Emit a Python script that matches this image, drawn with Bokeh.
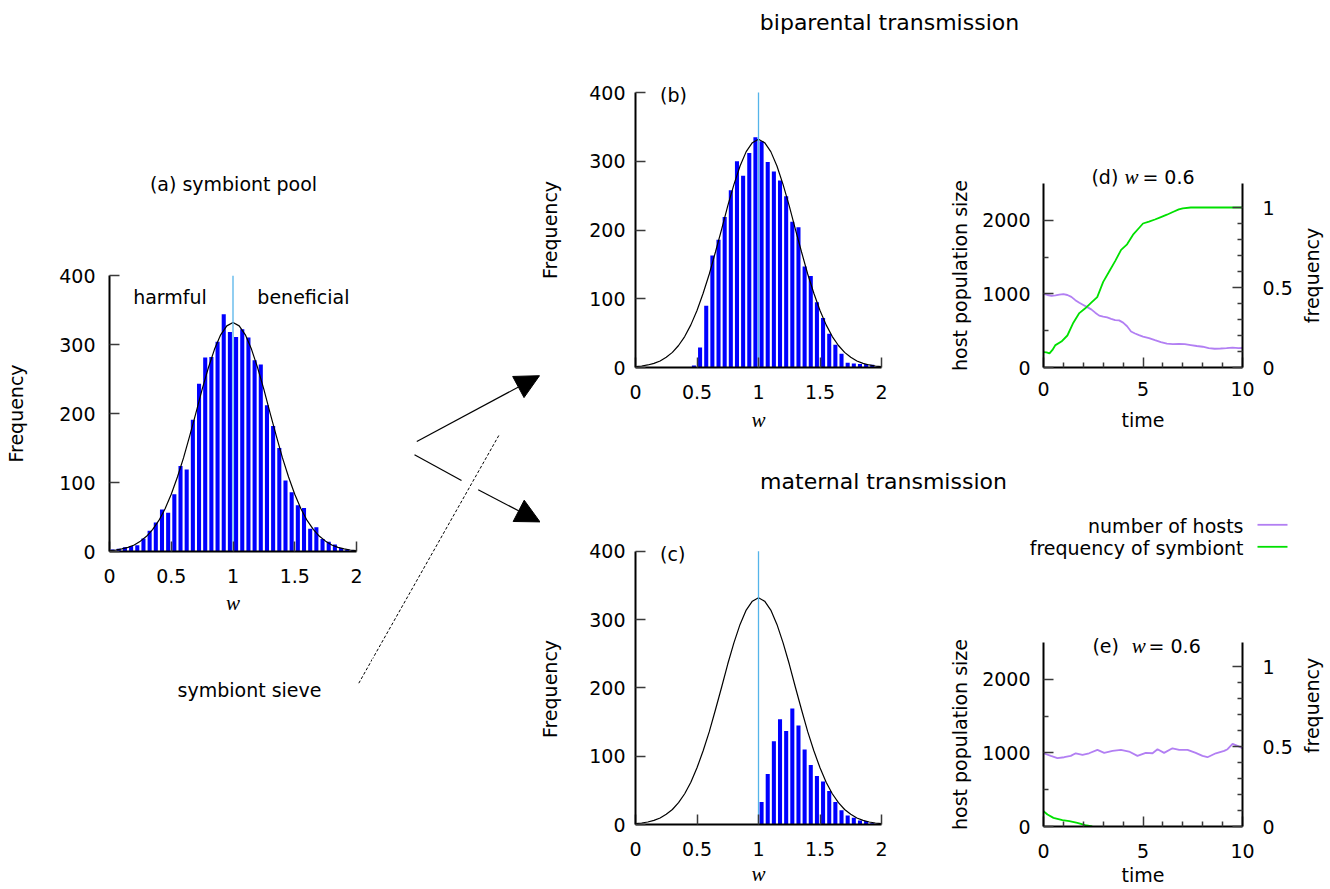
import math
from bokeh.plotting import figure
from bokeh.layouts import row, column
from bokeh.models import (Range1d, LinearAxis, FixedTicker, CustomJSTickFormatter,
                          Arrow, NormalHead)
from bokeh.core.properties import value
from bokeh.embed import file_html
from bokeh.resources import INLINE

# ---------------- data ----------------
w_bins = [0.025, 0.075, 0.125, 0.175, 0.225, 0.275, 0.325, 0.375, 0.425, 0.475,
          0.525, 0.575, 0.625, 0.675, 0.725, 0.775, 0.825, 0.875, 0.925, 0.975,
          1.025, 1.075, 1.125, 1.175, 1.225, 1.275, 1.325, 1.375, 1.425, 1.475,
          1.525, 1.575, 1.625, 1.675, 1.725, 1.775, 1.825, 1.875, 1.925, 1.975]
pool_counts = [3, 4, 6, 8, 9, 19, 30, 42, 61, 56,
               83, 124, 119, 191, 243, 281, 282, 304, 344, 318,
               311, 322, 310, 277, 271, 212, 182, 150, 103, 86,
               67, 63, 33, 35, 18, 14, 10, 5, 3, 2]
biparental_counts = [0, 0, 0, 0, 0, 0, 0, 0, 0, 3,
                     29, 90, 163, 186, 219, 258, 300, 279, 312, 335,
                     329, 299, 285, 272, 249, 212, 204, 147, 133, 95,
                     72, 49, 33, 20, 7, 6, 5, 5, 4, 2]
maternal_counts = [0, 0, 0, 0, 0, 0, 0, 0, 0, 0,
                   0, 0, 0, 0, 0, 0, 0, 0, 0, 0,
                   33, 74, 122, 154, 137, 170, 145, 110, 87, 71,
                   63, 49, 33, 21, 13, 10, 6, 5, 2, 1]

w_grid = [0.0, 0.05, 0.1, 0.15, 0.2, 0.25, 0.3, 0.35, 0.4, 0.45,
          0.5, 0.55, 0.6, 0.65, 0.7, 0.75, 0.8, 0.85, 0.9, 0.95,
          1.0, 1.05, 1.1, 1.15, 1.2, 1.25, 1.3, 1.35, 1.4, 1.45,
          1.5, 1.55, 1.6, 1.65, 1.7, 1.75, 1.8, 1.85, 1.9, 1.95, 2.0]
expected_counts = [1.3, 2.2, 3.7, 6, 9.5, 15, 22, 32, 45, 62,
                   83, 108, 136, 168, 201, 235, 266, 293, 314, 327,
                   332, 327, 314, 293, 266, 235, 201, 168, 136, 108,
                   83, 62, 45, 32, 22, 15, 9.5, 6, 3.7, 2.2, 1.3]
neutral_w = 1.0
hist_top = 400

bi_time = [0.0, 0.2, 0.4, 0.6, 0.8, 1.0, 1.2, 1.4, 1.6, 1.8,
           2.0, 2.2, 2.4, 2.6, 2.8, 3.0, 3.2, 3.4, 3.6, 3.8,
           4.0, 4.2, 4.4, 4.6, 4.8, 5.0, 5.3, 5.6, 5.9, 6.2,
           6.5, 6.8, 7.1, 7.4, 7.7, 8.0, 8.3, 8.6, 8.9, 9.2,
           9.5, 9.8, 10.0]
bi_hosts = [1000, 985, 975, 980, 990, 996, 985, 960, 915, 880,
            850, 820, 790, 745, 705, 690, 680, 662, 645, 640,
            610, 560, 490, 462, 440, 420, 400, 372, 345, 325,
            318, 322, 318, 305, 292, 282, 262, 255, 258, 262,
            270, 262, 265]
bi_freq_time = [0.0, 0.15, 0.3, 0.45, 0.6, 0.9, 1.2, 1.5, 1.8, 2.1,
                2.4, 2.7, 3.0, 3.3, 3.6, 3.9, 4.2, 4.5, 4.8, 5.0,
                5.3, 5.6, 5.9, 6.2, 6.5, 6.8, 7.0, 7.4, 8.0, 9.0, 10.0]
bi_freq = [0.096, 0.095, 0.088, 0.11, 0.14, 0.162, 0.2, 0.28, 0.34, 0.37,
           0.405, 0.44, 0.535, 0.6, 0.665, 0.735, 0.77, 0.83, 0.872, 0.9,
           0.912, 0.925, 0.94, 0.955, 0.972, 0.988, 0.995, 1.0, 1.0, 1.0, 1.0]

ma_time = [0.0, 0.37, 0.70, 1.04, 1.37, 1.62, 1.96, 2.29, 2.71, 3.05,
           3.47, 3.89, 4.30, 4.72, 5.14, 5.48, 5.73, 6.06, 6.48, 6.82,
           7.24, 7.65, 7.99, 8.24, 8.66, 9.08, 9.25, 9.50, 9.75, 10.0]
ma_hosts = [995, 959, 928, 941, 959, 995, 973, 995, 1041, 1000,
            1027, 1041, 1018, 959, 1000, 995, 1050, 1000, 1063, 1041,
            1041, 1000, 959, 941, 995, 1027, 1050, 1122, 1095, 1063]
ma_freq_time = [0.0, 0.2, 0.5, 0.95, 1.3, 1.7, 2.1, 2.45]
ma_freq = [0.096, 0.075, 0.054, 0.04, 0.033, 0.023, 0.008, 0.0]

hist_x_ticks = [0, 0.5, 1, 1.5, 2]
hist_y_ticks = [0, 100, 200, 300, 400]
host_ticks = [0, 1000, 2000]
host_minor = [500, 1500]
host_top = 2500
time_ticks = [0, 5, 10]
time_minor = [1, 2, 3, 4, 6, 7, 8, 9]
freq_ticks = [0, 0.5, 1]
freq_minor = [0.1, 0.2, 0.3, 0.4, 0.6, 0.7, 0.8, 0.9]
freq_top = 1.15

legend_labels = ["number of hosts", "frequency of symbiont"]

# ---------------- styles ----------------
SANS = "DejaVu Sans"
SERIF = "Liberation Serif"
FS = "19px"
BIG = "22px"
BAR_BLUE = "#0000ff"
NEUTRAL = "#55b4ea"
PURPLE = "#b27ff3"
GREEN = "#00e000"
TICK = "#3a3a3a"
UP = math.pi / 2


def no_align(p):
    if "frame_align" in p.properties():
        p.frame_align = False


def txt(p, x, y, s, size=FS, font=SANS, style="normal", align="center",
        baseline="middle", angle=0.0):
    p.text(x=[x], y=[y], text=[s], text_font=value(font), text_font_size=size,
           text_font_style=style, text_align=align, text_baseline=baseline,
           angle=angle, text_color="black")


def style_axis(ax, label, ticks, minor, lab_standoff, axlab_standoff,
               serif_label=False, bounds=None):
    ax.ticker = FixedTicker(ticks=ticks, minor_ticks=minor)
    ax.formatter = CustomJSTickFormatter(code="return String(tick)")
    ax.axis_line_width = 2
    ax.axis_line_color = "black"
    ax.major_tick_in = 10
    ax.major_tick_out = 0
    ax.minor_tick_in = 5
    ax.minor_tick_out = 0
    ax.major_tick_line_color = TICK
    ax.major_tick_line_width = 1.5
    ax.minor_tick_line_color = TICK if minor else None
    ax.minor_tick_line_width = 1.5
    ax.major_label_text_font = SANS
    ax.major_label_text_font_size = FS
    ax.major_label_text_color = "black"
    ax.major_label_standoff = lab_standoff
    ax.axis_label = label
    ax.axis_label_standoff = axlab_standoff
    ax.axis_label_text_font = SERIF if serif_label else SANS
    ax.axis_label_text_font_style = "italic" if serif_label else "normal"
    ax.axis_label_text_font_size = "21px" if serif_label else FS
    ax.axis_label_text_color = "black"
    if bounds is not None:
        ax.bounds = bounds


def canvas(w, h, x0, x1, y0, y1):
    p = figure(width=w, height=h, x_range=Range1d(x0, x1), y_range=Range1d(y0, y1),
               output_backend="svg", toolbar_location=None,
               x_axis_location=None, y_axis_location=None,
               min_border_left=0, min_border_right=0,
               min_border_top=0, min_border_bottom=0)
    p.xgrid.visible = False
    p.ygrid.visible = False
    p.outline_line_color = None
    no_align(p)
    return p


def side_label(w, h, x0, y0, s, x, y):
    # vertical text reading bottom-to-top; y measured downward from page top
    p = canvas(w, h, x0, x0 + w, -(y0 + h), -y0)
    txt(p, x, -y, s, angle=UP)
    return p


def hist_panel(counts, w, h, mbl, mbr, mbt, mbb, px_axis, px_frame,
               ylabel, ylab, xlab):
    y_end = hist_top * px_frame / px_axis
    p = figure(width=w, height=h, x_range=Range1d(0, 2), y_range=Range1d(0, y_end),
               output_backend="svg", toolbar_location=None,
               min_border_left=mbl, min_border_right=mbr,
               min_border_top=mbt, min_border_bottom=mbb)
    no_align(p)
    p.xgrid.visible = False
    p.ygrid.visible = False
    p.outline_line_color = None
    p.vbar(x=w_bins, top=counts, width=0.033, fill_color=BAR_BLUE,
           line_color=None)
    p.line(w_grid, expected_counts, line_color="black", line_width=1.2)
    p.segment(x0=[neutral_w], y0=[0], x1=[neutral_w], y1=[hist_top],
              line_color=NEUTRAL, line_width=1.3)
    style_axis(p.left[0], ylabel, hist_y_ticks, [], ylab[0], ylab[1],
               bounds=(0, hist_top))
    style_axis(p.below[0], "w", hist_x_ticks, [], xlab[0], xlab[1],
               serif_label=True)
    return p


def dyn_panel(w, h, mbl, mbr, mbt, mbb, px_axis, px_frame, time, hosts,
              ftime, freq, xlab):
    p = figure(width=w, height=h, x_range=Range1d(0, 10),
               y_range=Range1d(0, host_top * px_frame / px_axis),
               output_backend="svg", toolbar_location=None,
               min_border_left=mbl, min_border_right=mbr,
               min_border_top=mbt, min_border_bottom=mbb)
    no_align(p)
    p.extra_y_ranges = {"freq": Range1d(0, freq_top * px_frame / px_axis)}
    p.xgrid.visible = False
    p.ygrid.visible = False
    p.outline_line_color = None
    rax = LinearAxis(y_range_name="freq")
    p.add_layout(rax, "right")
    p.line(time, hosts, line_color=PURPLE, line_width=1.8)
    p.line(ftime, freq, line_color=GREEN, line_width=1.8, y_range_name="freq")
    style_axis(p.left[0], None, host_ticks, host_minor, 13, 0,
               bounds=(0, host_top))
    style_axis(rax, None, freq_ticks, freq_minor, 20, 0, bounds=(0, freq_top))
    style_axis(p.below[0], "time", time_ticks, time_minor, xlab[0], xlab[1])
    return p


# ---------------- panel (a) ----------------
pTa = canvas(372, 250, 0, 372, 250, 0)
txt(pTa, 233, 183, "(a) symbiont pool")
pA = hist_panel(pool_counts, 372, 370, 109, 16, 25, 69, 276, 276,
                "Frequency", (14, 29), (17, 5))
txt(pA, 0.49, 369, "harmful")
txt(pA, 1.57, 369, "beneficial")

# ---------------- panels (b), (c) ----------------
pLb = side_label(26, 378, 540, 62, "Frequency", 549, 229.5)
pB = hist_panel(biparental_counts, 374, 378, 69, 59, 13, 73, 275, 292,
                None, (10, 0), (17, 6))
txt(pB, 0.2, 397, "(b)", align="left")
pLc = side_label(26, 388, 540, 500, "Frequency", 549, 688.5)
pC = hist_panel(maternal_counts, 374, 388, 69, 59, 30, 62, 275, 296,
                None, (10, 0), (17, 3))
txt(pC, 0.2, 396, "(c)", align="left")

# ---------------- panels (d), (e) ----------------
pLd = side_label(32, 378, 940, 62, "host population size", 959, 275)
pD = dyn_panel(328, 378, 71, 58, 13, 73, 184, 292, bi_time, bi_hosts,
               bi_freq_time, bi_freq, (14, 10))
txt(pD, 2.41, 2582, "(d)", align="left")
txt(pD, 4.07, 2582, "w", font=SERIF, style="italic", size="21px", align="left")
txt(pD, 4.97, 2582, "= 0.6", align="left")
pRd = side_label(28, 378, 1300, 62, "frequency", 1311, 275)

pLe = side_label(32, 328, 940, 560, "host population size", 959, 734)
pE = dyn_panel(328, 328, 71, 58, 40, 62, 184, 226, ma_time, ma_hosts,
               ma_freq_time, ma_freq, (17, 3))
txt(pE, 2.46, 2459, "(e)", align="left")
txt(pE, 4.43, 2459, "w", font=SERIF, style="italic", size="21px", align="left")
txt(pE, 5.28, 2459, "= 0.6", align="left")
pRe = side_label(28, 328, 1300, 560, "frequency", 1311, 705)

# ---------------- legend band ----------------
pL = canvas(388, 60, 940, 1328, 560, 500)
txt(pL, 1243, 525, legend_labels[0], align="right")
txt(pL, 1243, 547, legend_labels[1], align="right")
pL.segment(x0=[1257], y0=[524.3], x1=[1287], y1=[524.3], line_color=PURPLE, line_width=1.8)
pL.segment(x0=[1257], y0=[546.3], x1=[1287], y1=[546.3], line_color=GREEN, line_width=1.8)

# ---------------- titles ----------------
pT1 = canvas(788, 62, 540, 1328, 62, 0)
txt(pT1, 889, 22, "biparental transmission", size=BIG)
pT2 = canvas(788, 60, 540, 1328, 500, 440)
txt(pT2, 883, 481, "maternal transmission", size=BIG)

# ---------------- arrows and sieve ----------------
pM = canvas(168, 888, 372, 540, 888, 0)
pM.add_layout(Arrow(end=NormalHead(size=24, fill_color="black", line_color="black"),
                    x_start=416.3, y_start=441, x_end=539, y_end=375.2,
                    line_width=1.2, line_color="black"))
pM.line([414, 461], [454.3, 480], line_color="black", line_width=1.2)
pM.add_layout(Arrow(end=NormalHead(size=24, fill_color="black", line_color="black"),
                    x_start=477.7, y_start=489.3, x_end=539.5, y_end=521.4,
                    line_width=1.2, line_color="black"))
pM.line([498.3, 372], [435, 658.4], line_color="black", line_width=1,
        line_dash="3 2")

pS = canvas(372, 268, 0, 372, 888, 620)
pS.line([372, 358.3], [658.4, 682.7], line_color="black", line_width=1,
        line_dash="3 2")
txt(pS, 249, 689, "symbiont sieve")

layout = row(column(pTa, pA, pS), pM,
             column(pT1, row(pLb, pB, pLd, pD, pRd), pT2,
                    row(pLc, pC, column(pL, row(pLe, pE, pRe)))))

open("out.html", "w").write(file_html(layout, INLINE))
